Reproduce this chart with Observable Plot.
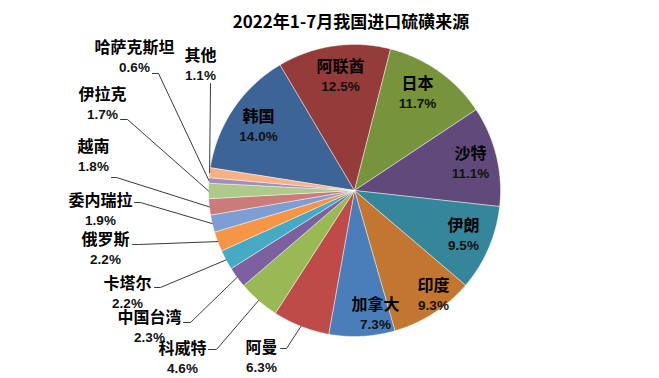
<!DOCTYPE html>
<html><head><meta charset="utf-8">
<script src="https://cdn.jsdelivr.net/npm/d3@7"></script>
<script src="https://cdn.jsdelivr.net/npm/@observablehq/plot@0.6"></script>
<style>
body{margin:0;background:#fff;}
#wrap{position:relative;width:659px;height:378px;overflow:hidden;background:#fff;}
#title{position:absolute;left:0;top:11px;width:702px;text-align:center;font-family:"Noto Sans CJK SC",sans-serif;font-weight:700;font-size:17px;line-height:20px;color:#000;z-index:2;}
#chart{position:absolute;left:0;top:0;}
</style></head><body>
<div id="wrap"><div id="title">2022年1-7月我国进口硫磺来源</div><div id="chart"></div></div>
<script>
// ---- data ----
const countries = ["韩国","阿联酋","日本","沙特","伊朗","印度","加拿大","阿曼","科威特","中国台湾","卡塔尔","俄罗斯","委内瑞拉","越南","伊拉克","哈萨克斯坦","其他"];
const shares = [14.0,12.5,11.7,11.1,9.5,9.3,7.3,6.3,4.6,2.3,2.2,2.2,1.9,1.8,1.7,0.6,1.1];
const colors = ["#3C6496","#953B3A","#77933C","#604A7B","#35869B","#C2762F","#4A7EBB","#BE4B48","#98B954","#7D60A0","#46AAC5","#F69546","#7D9ED2","#CB7B79","#AFC98A","#A08EBC","#F8B184"];

// ---- layout (label placement, pixels): [nameX, nameY, leaderX, leaderY, stub] ----
const labelLayout = {
  "韩国":[258,116], "阿联酋":[340,66], "日本":[417,83], "沙特":[470,153],
  "伊朗":[463,225], "印度":[433,285], "加拿大":[375,304],
  "阿曼":[261,347,280,348,6], "科威特":[182,348,208,349,8], "中国台湾":[149,317,183,322,7],
  "卡塔尔":[127,283,154,287,6], "俄罗斯":[105,239,132,244,6], "委内瑞拉":[100,200,134,202,6],
  "越南":[93,146,111,177,5], "伊拉克":[102,94,120,119,7], "哈萨克斯坦":[134,47,152,73,6],
  "其他":[200,55,210,83,0]
};
const W = 659, H = 378, cx = 354, cy = 190, R = 146;
const start = -81 * Math.PI / 180;

const rows = countries.map((name, i) => ({name, share: shares[i], color: colors[i]}));
const arcs = d3.pie().value(d => d.share).sort(null).startAngle(start).endAngle(start + 2 * Math.PI)(rows);
const px = (a, r) => cx + r * Math.sin(a);
const py = (a, r) => cy - r * Math.cos(a);

const slicePts = [];
for (const a of arcs) {
  const {name, color} = a.data;
  slicePts.push({name, color, x: cx, y: cy});
  const n = Math.max(2, Math.ceil((a.endAngle - a.startAngle) / 0.01));
  for (let k = 0; k <= n; k++) {
    const t = a.startAngle + (a.endAngle - a.startAngle) * k / n;
    slicePts.push({name, color, x: px(t, R), y: py(t, R)});
  }
  slicePts.push({name, color, x: cx, y: cy});
}

const labels = arcs.map(a => {
  const L = labelLayout[a.data.name];
  return {name: a.data.name, pct: a.data.share.toFixed(1) + "%", x: L[0], y: L[1], mid: (a.startAngle + a.endAngle) / 2, L};
});

const leaderPts = [];
for (const l of labels) {
  if (l.L.length < 5) continue;
  const [, , lx, ly, stub] = l.L;
  leaderPts.push({name: l.name, x: lx, y: ly});
  if (stub) leaderPts.push({name: l.name, x: lx + stub, y: ly});
  leaderPts.push({name: l.name, x: px(l.mid, R), y: py(l.mid, R)});
}

const chart = Plot.plot({
  width: W, height: H, margin: 0,
  x: {domain: [0, W], range: [0, W], axis: null},
  y: {domain: [0, H], range: [0, H], axis: null},
  color: {type: "identity"},
  style: {background: "transparent", overflow: "visible"},
  marks: [
    Plot.line(slicePts, {x: "x", y: "y", z: "name", fill: "color", stroke: "#ffffff", strokeWidth: 0.8, strokeOpacity: 0.55, curve: "linear"}),
    Plot.line(leaderPts, {x: "x", y: "y", z: "name", stroke: "#3a3a3a", strokeWidth: 1, curve: "linear"}),
    Plot.text(labels, {x: "x", y: "y", text: "name", fontSize: 16, fontFamily: "Noto Sans CJK SC", fontWeight: 700, fill: "#000"}),
    Plot.text(labels, {x: "x", y: d => d.y + 20.5, text: "pct", fontSize: 13.5, fontFamily: "Liberation Sans, Arial, sans-serif", fontWeight: 700, fill: "#111"})
  ]
});
document.getElementById("chart").appendChild(chart);
</script>
</body></html>
